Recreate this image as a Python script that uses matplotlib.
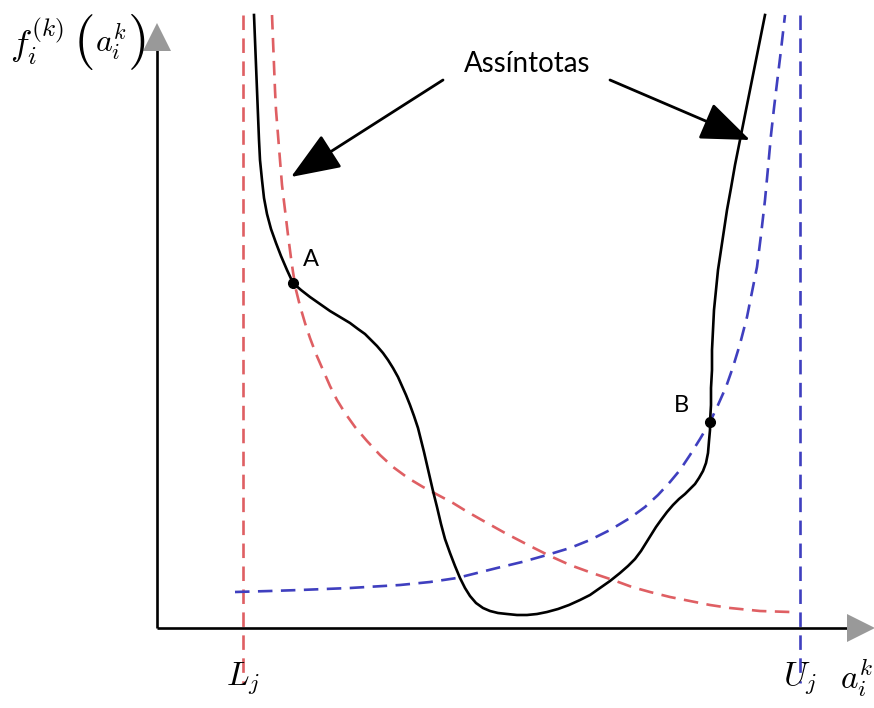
import matplotlib.pyplot as plt

plt.rcParams['mathtext.fontset'] = 'cm'

# coordinates (pixel-like units, y grows downward)
black_x = [254, 255, 256, 257, 258, 259, 260, 262, 264, 267, 271, 276, 281, 287, 293, 301, 310, 320, 330,
           340, 350, 358, 365, 371, 377, 383, 388, 393, 398, 402, 406, 410, 414, 418, 421, 424, 427, 430,
           433, 437, 441, 445, 450, 455, 460, 465, 470, 476, 483, 490, 498, 507, 517, 527, 537, 547,
           558, 569, 580, 590, 600, 610, 620, 628, 635, 641, 646, 651, 656, 661, 667, 673, 679, 685,
           690, 695, 699, 703, 706, 708, 709, 710, 710, 711, 711, 712, 712, 713, 714, 716, 718, 721,
           724, 727, 731, 735, 740, 745, 750, 755, 760, 765]
black_y = [15, 40, 65, 90, 115, 140, 160, 180, 198, 214, 229, 243, 256, 270, 283, 290, 297, 304, 311,
           317, 323, 329, 334, 340, 346, 353, 360, 368, 377, 386, 395, 405, 416, 428, 440, 452, 465, 478,
           491, 507, 524, 539, 553, 566, 578, 588, 596, 603, 608, 611, 613, 614, 615, 615, 614, 612,
           609, 605, 600, 595, 588, 581, 573, 566, 559, 551, 543, 535, 527, 520, 512, 505, 499, 494,
           489, 484, 478, 471, 463, 453, 441, 430, 422, 405, 388, 370, 350, 330, 310, 290, 270, 250,
           230, 210, 188, 165, 140, 115, 90, 65, 40, 15]

red_x = [272, 273, 274, 275, 276, 278, 280, 282, 285, 288, 291, 293, 296, 300, 305, 310, 316, 323, 330,
         337, 345, 355, 367, 380, 393, 408, 423, 438, 453, 466, 480, 505, 530, 550, 570, 592, 613, 632,
         650, 670, 690, 710, 730, 760, 790]
red_y = [15, 40, 65, 90, 110, 135, 160, 185, 210, 235, 258, 272, 290, 306, 323, 338, 354, 370, 386,
         400, 413, 427, 441, 455, 467, 478, 487, 495, 503, 511, 519, 533, 546, 556, 565, 573, 580, 587,
         592, 597, 601, 605, 608, 611, 612]

blue_x = [235, 270, 300, 350, 400, 430, 457, 477, 497, 522, 547, 570, 590, 610, 630, 645, 658, 670, 680,
          690, 700, 710, 718, 726, 733, 740, 747, 752, 757, 761, 765, 768, 771, 774, 777, 781, 785]
blue_y = [592, 591, 590, 588, 585, 582, 578, 573, 568, 562, 555, 548, 540, 530, 518, 507, 495, 482, 470,
          455, 439, 422, 405, 387, 367, 344, 317, 292, 267, 235, 200, 168, 135, 108, 83, 50, 15]

point_x = [293, 710]
point_y = [283, 422]
point_names = ['A', 'B']

L_x, U_x = 243, 800
origin_x, origin_y = 157, 628

fig = plt.figure(figsize=(8.74, 7.08), dpi=100)
ax = fig.add_axes([0, 0, 1, 1])
ax.set_xlim(0, 874)
ax.set_ylim(708, 0)
ax.axis('off')

red = '#df5f63'
blue = '#3f3fbf'
dash = (5.5, 3.2)

# axes with gray arrow heads
ax.plot([origin_x, origin_x], [origin_y, 48], color='black', lw=1.9, solid_capstyle='butt')
ax.plot([origin_x, 852], [origin_y, origin_y], color='black', lw=1.9, solid_capstyle='butt')
ax.plot(origin_x, 37, marker='^', color='#999999', ms=20, mew=0)
ax.plot(861, origin_y, marker='>', color='#999999', ms=20, mew=0)

# vertical asymptotes
ax.plot([L_x, L_x], [15, 683], color=red, lw=1.9, dashes=dash)
ax.plot([U_x, U_x], [15, 683], color=blue, lw=1.9, dashes=dash)

# approximation curves
ax.plot(red_x, red_y, color=red, lw=1.9, dashes=dash)
ax.plot(blue_x, blue_y, color=blue, lw=1.9, dashes=dash)

# actual function
ax.plot(black_x, black_y, color='black', lw=1.9, solid_joinstyle='round')
ax.plot(point_x, point_y, 'o', color='black', ms=7)
ax.text(311, 259, point_names[0], fontsize=17, family='Lato', ha='center', va='center')
ax.text(681, 405, point_names[1], fontsize=17, family='Lato', ha='center', va='center')

# annotation
ax.text(527, 64, 'Assíntotas', fontsize=20, family='Lato', ha='center', va='center')
arrow_style = dict(arrowstyle='-|>,head_length=1.4,head_width=0.55', color='black', lw=2.0,
                   mutation_scale=22, shrinkA=0, shrinkB=0)
ax.annotate('', xy=(291, 177), xytext=(443, 80), arrowprops=arrow_style)
ax.annotate('', xy=(750, 140), xytext=(610, 80), arrowprops=arrow_style)

# labels
ax.text(10, 42, r'$f_i^{(k)}$', fontsize=26, ha='left', va='center')
ax.text(83, 42, r'$($', fontsize=40, ha='center', va='center')
ax.text(95, 42, r'$a_i^k$', fontsize=23, ha='left', va='center')
ax.text(136, 42, r'$)$', fontsize=40, ha='center', va='center')
ax.text(243, 678, r'$L_j$', fontsize=24, ha='center', va='center')
ax.text(800, 678, r'$U_j$', fontsize=24, ha='center', va='center')
ax.text(840, 678, r'$a_i^k$', fontsize=24, ha='left', va='center')

fig.savefig('out.png', dpi=100)
